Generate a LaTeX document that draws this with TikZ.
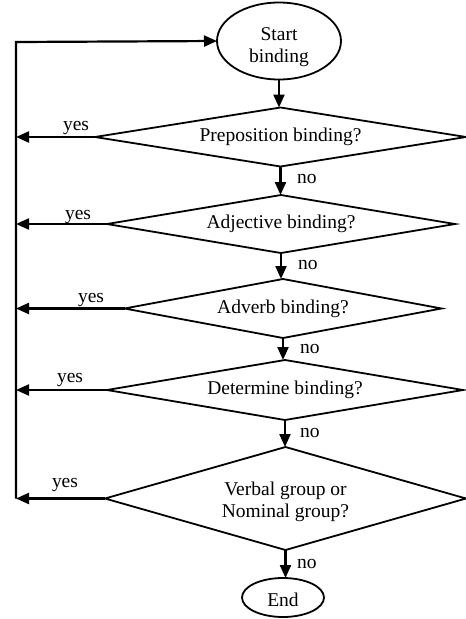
\documentclass[tikz,border=0pt]{standalone}
\usepackage{fontspec}
\setmainfont{Liberation Serif}
\usetikzlibrary{shapes.geometric,arrows.meta}
\begin{document}
\begin{tikzpicture}[x=1pt,y=-1pt,
  font=\fontsize{19.5}{22}\selectfont,
  every node/.style={inner sep=0pt,outer sep=0pt},
  term/.style={draw,ellipse,line width=1.8pt,align=center},
  dec/.style={draw,diamond,line width=1.8pt,align=center},
  arr/.style={line width=2.2pt,-{Triangle[length=13pt,width=11pt]}},
  lbl/.style={anchor=base west},
  txt/.style={anchor=base}]
\useasboundingbox (0,0) rectangle (466,619);
\node[term,minimum width=124pt,minimum height=77pt] (start) at (279,41) {};
\node[txt] (st1) at (279,40) {Start};
\node[txt] (st2) at (279,62) {binding};
\node[dec,aspect=6.3,minimum width=371pt,minimum height=59pt] (d1) at (280.5,137) {Preposition binding?};
\node[dec,aspect=6,minimum width=348pt,minimum height=58pt] (d2) at (281,224) {Adjective binding?};
\node[dec,aspect=5.4,minimum width=317pt,minimum height=59pt] (d3) at (283,308.5) {Adverb binding?};
\node[dec,aspect=5.9,minimum width=356pt,minimum height=60pt] (d4) at (285,390) {Determine binding?};
\node[dec,aspect=3.5,minimum width=361pt,minimum height=103pt] (d5) at (285.5,498.5) {};
\node[txt] (d5a) at (285.5,495) {Verbal group or};
\node[txt] (d5b) at (285.5,517) {Nominal group?};
\node[term,minimum width=82pt,minimum height=39pt] (end) at (283,597.5) {};
\node[txt] (endt) at (283,606.5) {End};
\coordinate (Lt) at (16,42);
\coordinate (Lb) at (16,498.5);
% down arrows
\draw[arr] (start.south) -- (start.south |- d1.north);
\draw[arr] (d1.south) -- (d1.south |- d2.north);
\draw[arr] (d2.south) -- (d2.south |- d3.north);
\draw[arr] (d3.south) -- (d3.south |- d4.north);
\draw[arr] (d4.south) -- (d4.south |- d5.north);
\draw[arr] (d5.south) -- (d5.south |- end.north);
% yes arrows
\draw[arr] (d1.west) -- (d1.west -| Lt);
\draw[arr] (d2.west) -- (d2.west -| Lt);
\draw[arr] (d3.west) -- (d3.west -| Lt);
\draw[arr] (d4.west) -- (d4.west -| Lt);
\draw[arr] (d5.west) -- (Lb);
\draw[arr] (Lb) -- (Lt) -- (start.west);
% labels
\node[lbl] (y1) at (63,130) {yes};
\node[lbl] (y2) at (65,219) {yes};
\node[lbl] (y3) at (78,302) {yes};
\node[lbl] (y4) at (57,382) {yes};
\node[lbl] (y5) at (52,487) {yes};
\node[lbl] (n1) at (297,183) {no};
\node[lbl] (n2) at (298,269) {no};
\node[lbl] (n3) at (300,353) {no};
\node[lbl] (n4) at (300,437) {no};
\node[lbl] (n5) at (297,568) {no};
\end{tikzpicture}
\end{document}
